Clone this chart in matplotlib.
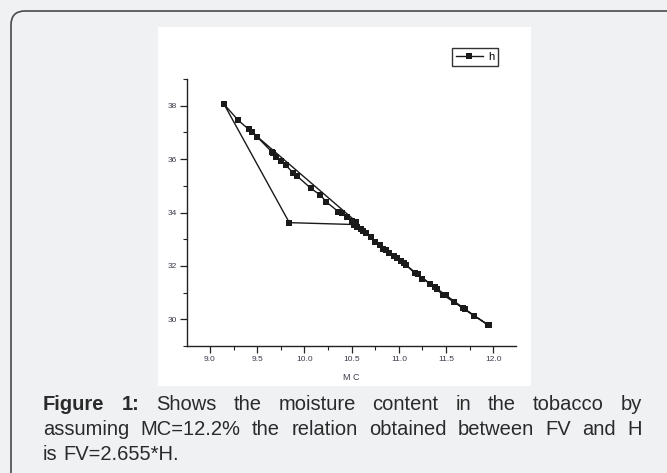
import matplotlib
matplotlib.use("Agg")
import matplotlib.pyplot as plt
import matplotlib.patches as patches
from matplotlib.transforms import IdentityTransform
from matplotlib.ticker import MultipleLocator

# moisture content (x) and h (y), in the order the curve is traced
mc = [10.55, 9.30, 9.15, 9.84, 10.52, 10.56, 10.60, 10.65, 10.75, 10.83, 10.86,
      10.95, 11.02, 11.08, 11.17, 11.25, 11.33, 11.40, 11.47, 11.58, 11.68,
      11.80, 11.95, 11.94, 11.70, 11.50, 11.38, 11.20, 11.05, 10.98, 10.90,
      10.80, 10.70, 10.62, 10.55, 10.50, 10.45, 10.40, 10.36, 10.23, 10.17,
      10.07, 9.92, 9.88, 9.80, 9.75, 9.70, 9.67, 9.66, 9.50, 9.45, 9.41]
h = [33.65, 37.45, 38.05, 33.62, 33.55, 33.47, 33.38, 33.25, 32.91, 32.62, 32.60,
     32.38, 32.20, 32.02, 31.72, 31.52, 31.34, 31.12, 30.91, 30.65, 30.41,
     30.12, 29.78, 29.80, 30.38, 30.90, 31.20, 31.68, 32.10, 32.30, 32.50,
     32.78, 33.08, 33.32, 33.55, 33.70, 33.85, 33.98, 34.03, 34.40, 34.65,
     34.90, 35.37, 35.49, 35.78, 35.94, 36.09, 36.21, 36.25, 36.83, 37.03, 37.11]

xticks = [9.0, 9.5, 10.0, 10.5, 11.0, 11.5, 12.0]
yticks = [30, 32, 34, 36, 38]

caption = [
    [("Figure", True), ("1:", True), ("Shows", False), ("the", False),
     ("moisture", False), ("content", False), ("in", False), ("the", False),
     ("tobacco", False), ("by", False)],
    [(w, False) for w in "assuming MC=12.2% the relation obtained between FV and H".split()],
    [(w, False) for w in "is FV=2.655*H.".split()],
]

plt.rcParams["font.family"] = ["Liberation Sans", "DejaVu Sans"]

W, H = 667, 473
fig = plt.figure(figsize=(W / 100, H / 100), dpi=100, facecolor="#f0f1f3")

# rounded frame and white chart panel (pixel coords, origin bottom-left)
frame = patches.FancyBboxPatch((11, -20), 700, H - 11 + 20,
                               boxstyle="round,pad=0,rounding_size=14",
                               transform=IdentityTransform(), facecolor="#f0f1f3",
                               edgecolor="#4a4a4a", linewidth=1.2, zorder=-3)
fig.patches.append(frame)
panel = patches.Rectangle((158, H - 386), 531 - 158, 386 - 27,
                          transform=IdentityTransform(), facecolor="white",
                          edgecolor="none", zorder=-2)
fig.patches.append(panel)

ax = fig.add_axes([187.3 / W, 1 - 346 / H, (516 - 187.3) / W, (346 - 79) / H])
ax.set_facecolor("white")
ax.plot(mc, h, color="#1a1a1a", lw=1.0, marker="s", markersize=4.2,
        markeredgewidth=0, label="h")

ax.set_xlim(8.76, 12.24)
ax.set_ylim(29, 39)
ax.set_xticks(xticks)
ax.set_yticks(yticks)
ax.xaxis.set_minor_locator(MultipleLocator(0.25))
ax.yaxis.set_minor_locator(MultipleLocator(1))
ax.set_xticklabels([f"{v:.1f}" for v in xticks])
ax.set_yticklabels([str(v) for v in yticks])
for s in ["top", "right"]:
    ax.spines[s].set_visible(False)
for s in ["left", "bottom"]:
    ax.spines[s].set_linewidth(1.0)
    ax.spines[s].set_color("#222222")
ax.tick_params(which="major", length=5, width=0.9, labelsize=6,
               labelcolor="#3a3a4a", pad=2.5, color="#222222")
ax.tick_params(which="minor", length=3, width=0.8, color="#222222")
ax.set_xlabel("M C", fontsize=6.5, color="#3a3a4a", labelpad=7)

ax.legend(loc="upper left", bbox_to_anchor=(452 / W, 1 - 48 / H),
          bbox_transform=fig.transFigure, fontsize=8, frameon=True,
          fancybox=False, edgecolor="#333333", framealpha=1,
          handlelength=2.4, handletextpad=0.5, borderpad=0.35,
          borderaxespad=0)

# justified caption, placed word by word
renderer = fig.canvas.get_renderer()
x_left, x_right = 43, 642
baselines = [410, 435, 460]
fs = 14.5
for i, words in enumerate(caption):
    texts = []
    for w, bold in words:
        t = fig.text(0, 0, w, fontsize=fs, fontweight="bold" if bold else "normal",
                     color="#2a2a2a", va="baseline", ha="left",
                     transform=IdentityTransform())
        texts.append(t)
    widths = [t.get_window_extent(renderer).width for t in texts]
    if i < 2:
        gap = (x_right - x_left - sum(widths)) / (len(words) - 1)
    else:
        gap = fs * 0.28 * 100 / 72
    x = x_left
    for t, wdt in zip(texts, widths):
        t.set_position((x, H - baselines[i]))
        x += wdt + gap

fig.savefig("out.png", dpi=100, facecolor=fig.get_facecolor())
